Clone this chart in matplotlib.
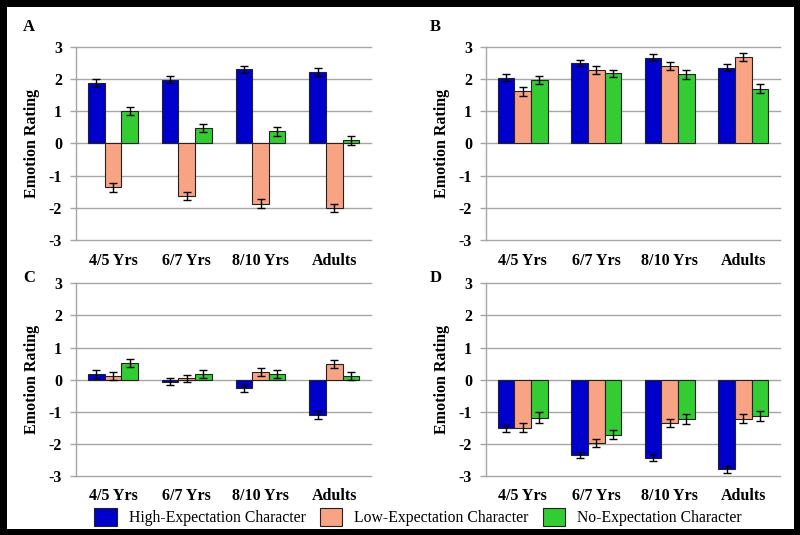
import numpy as np
import matplotlib
matplotlib.use("Agg")
import matplotlib.pyplot as plt
from matplotlib.patches import Patch

plt.rcParams["font.family"] = ["Liberation Serif", "DejaVu Serif"]
plt.rcParams["axes.unicode_minus"] = False

groups = ["4/5 Yrs", "6/7 Yrs", "8/10 Yrs", "Adults"]
series = ["High-Expectation Character", "Low-Expectation Character", "No-Expectation Character"]
colors = ["#0000CC", "#F9A385", "#33CC33"]

# panel A
a_high = [1.88, 1.97, 2.30, 2.22]
a_low = [-1.36, -1.64, -1.88, -2.01]
a_none = [1.00, 0.48, 0.37, 0.09]
a_err = [[0.12, 0.11, 0.11, 0.12], [0.14, 0.13, 0.14, 0.13], [0.13, 0.12, 0.13, 0.13]]

# panel B
b_high = [2.04, 2.50, 2.66, 2.35]
b_low = [1.61, 2.28, 2.39, 2.67]
b_none = [1.96, 2.17, 2.14, 1.70]
b_err = [[0.11, 0.10, 0.10, 0.11], [0.13, 0.12, 0.13, 0.13], [0.13, 0.12, 0.13, 0.13]]

# panel C
c_high = [0.18, -0.06, -0.27, -1.10]
c_low = [0.12, 0.04, 0.23, 0.48]
c_none = [0.53, 0.17, 0.18, 0.11]
c_err = [[0.13, 0.11, 0.12, 0.13], [0.13, 0.12, 0.12, 0.13], [0.13, 0.12, 0.12, 0.13]]

# panel D
d_high = [-1.52, -2.34, -2.43, -2.79]
d_low = [-1.49, -1.98, -1.35, -1.21]
d_none = [-1.18, -1.72, -1.23, -1.14]
d_err = [[0.11, 0.09, 0.10, 0.11], [0.14, 0.12, 0.13, 0.14], [0.16, 0.14, 0.15, 0.15]]

panels = [
    ("A", [a_high, a_low, a_none], a_err, [0.095, 0.5514, 0.369, 0.3614]),
    ("B", [b_high, b_low, b_none], b_err, [0.6075, 0.5514, 0.3675, 0.3614]),
    ("C", [c_high, c_low, c_none], c_err, [0.095, 0.1103, 0.369, 0.360]),
    ("D", [d_high, d_low, d_none], d_err, [0.6075, 0.1103, 0.3675, 0.360]),
]

fig = plt.figure(figsize=(8, 5.35), dpi=100)
fig.patch.set_facecolor("white")
fig.patch.set_edgecolor("black")
fig.patch.set_linewidth(8)

grid_c = "#A6A6A6"
x = np.arange(len(groups))
w = 0.225

for letter, vals, errs, rect in panels:
    ax = fig.add_axes(rect)
    for i, (v, e) in enumerate(zip(vals, errs)):
        ax.bar(x + (i - 1) * w, v, w, color=colors[i], edgecolor="#222222",
               linewidth=0.8, zorder=3)
        ax.errorbar(x + (i - 1) * w, v, yerr=e, fmt="none", ecolor="black",
                    elinewidth=1.0, capsize=2.8, capthick=1.0, zorder=4)
    ax.set_xlim(-0.5, 3.5)
    ax.set_ylim(-3, 3)
    ax.set_yticks(range(-3, 4))
    ax.yaxis.grid(True, color=grid_c, linewidth=1.0, zorder=0)
    for gl in ax.get_ygridlines():
        gl.set_clip_on(False)
    ax.set_axisbelow(True)
    for s in ["top", "right", "bottom"]:
        ax.spines[s].set_visible(False)
    ax.spines["left"].set_color(grid_c)
    ax.spines["left"].set_linewidth(1.0)
    ax.tick_params(axis="y", length=4, color=grid_c, width=1.0, pad=6,
                   labelsize=11.5)
    ax.tick_params(axis="x", length=0, pad=9, labelsize=11.5)
    ax.set_xticks(x)
    ax.set_xticklabels(groups, fontweight="bold")
    for t in ax.get_yticklabels():
        t.set_fontweight("bold")
    ax.set_ylabel("Emotion Rating", fontsize=11.5, fontweight="bold", labelpad=6)
    ax.text(-0.18 if letter in "AC" else -0.19, 1.10 if letter in "AB" else 1.03,
            letter, transform=ax.transAxes, fontsize=12, fontweight="bold",
            ha="left", va="center")

handles = [Patch(facecolor=c, edgecolor="#222222", linewidth=0.8) for c in colors]
fig.legend(handles, series, loc="center", bbox_to_anchor=(418 / 800, 1 - 517 / 535),
           ncol=3, frameon=False, fontsize=11.3, handlelength=1.45, handleheight=1.45,
           handletextpad=0.75, columnspacing=0.9)

fig.savefig("out.png", dpi=100, facecolor=fig.get_facecolor(),
            edgecolor=fig.get_edgecolor())
